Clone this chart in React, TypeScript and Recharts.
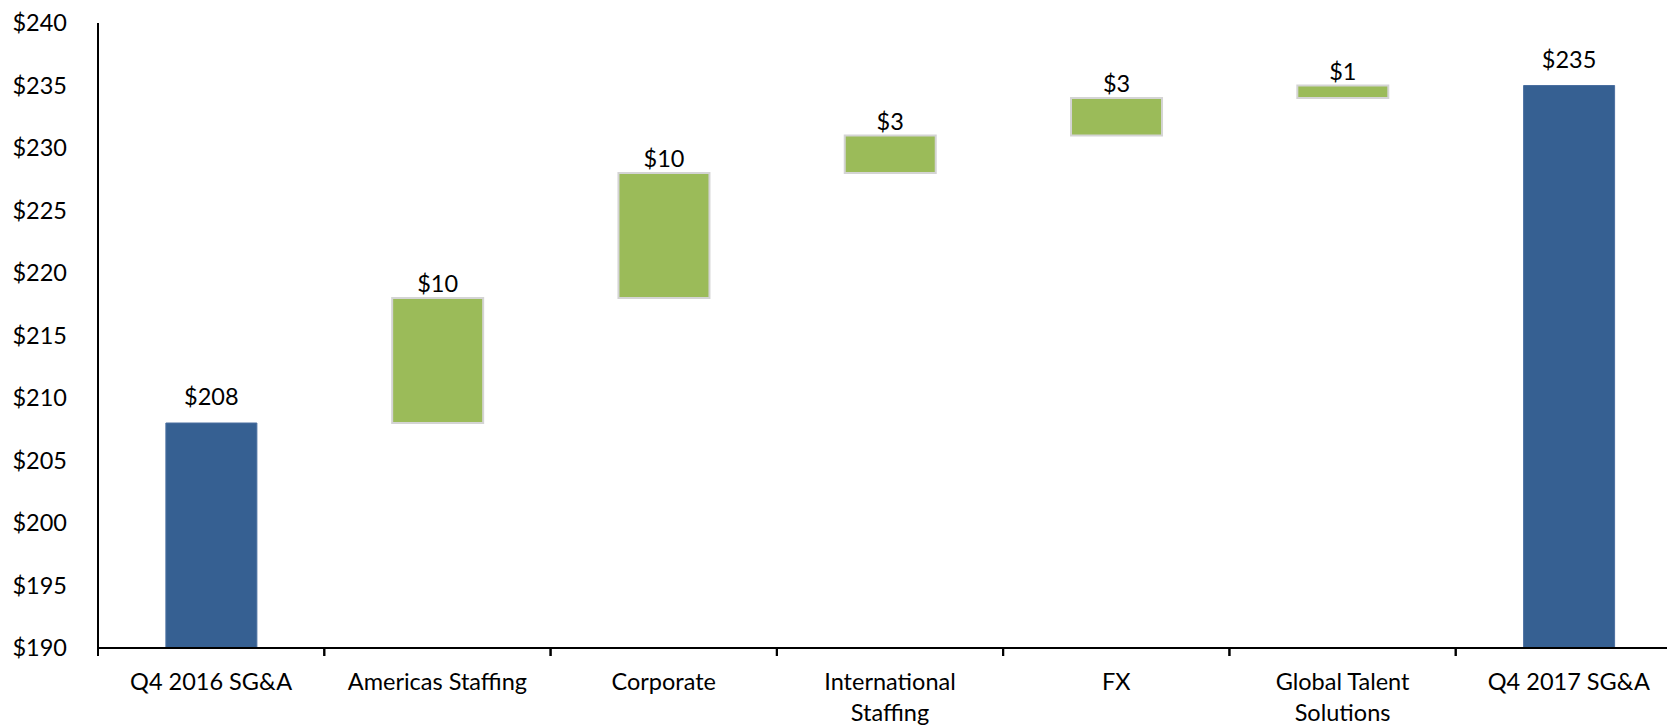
import { BarChart, Bar, XAxis, YAxis, Cell, LabelList } from 'recharts'

const categories = [
  'Q4 2016 SG&A',
  'Americas Staffing',
  'Corporate',
  'International Staffing',
  'FX',
  'Global Talent Solutions',
  'Q4 2017 SG&A',
]
const startTotal = 208
const deltas = [10, 10, 3, 3, 1]
const endTotal = 235
const yTicks = [190, 195, 200, 205, 210, 215, 220, 225, 230, 235, 240]
const AXIS_MIN = 190
const AXIS_MAX = 240

const FONT = 'Lato, sans-serif'
const FONT_SIZE = 23.5
const BLUE = '#366092'
const GREEN = '#9bbb59'

type Row = { name: string; range: [number, number]; label: string; total: boolean }

const rows: Row[] = (() => {
  const out: Row[] = [{ name: categories[0], range: [AXIS_MIN, startTotal], label: `$${startTotal}`, total: true }]
  let run = startTotal
  deltas.forEach((d, i) => {
    out.push({ name: categories[i + 1], range: [run, run + d], label: `$${d}`, total: false })
    run += d
  })
  out.push({ name: categories[categories.length - 1], range: [AXIS_MIN, endTotal], label: `$${endTotal}`, total: true })
  return out
})()

// word wrap by measured width, like the spreadsheet does
let ctx: CanvasRenderingContext2D | null = null
function wrap(text: string, maxWidth: number): string[] {
  if (!ctx) ctx = document.createElement('canvas').getContext('2d')
  if (!ctx) return [text]
  ctx.font = `${FONT_SIZE}px ${FONT}`
  const lines: string[] = []
  let cur = ''
  for (const w of text.split(' ')) {
    const next = cur ? `${cur} ${w}` : w
    if (cur && ctx.measureText(next).width > maxWidth) {
      lines.push(cur)
      cur = w
    } else {
      cur = next
    }
  }
  if (cur) lines.push(cur)
  return lines
}

function CategoryTick(props: any) {
  const { x, y, payload } = props
  const half = payload && payload.offset ? payload.offset : 113
  const lines = wrap(String(payload.value), 195)
  return (
    <g>
      <line x1={x - half} x2={x - half} y1={y} y2={y + 8} stroke="#000" strokeWidth={2} />
      <line x1={x + half} x2={x + half} y1={y} y2={y + 8} stroke="#000" strokeWidth={2} />
      <text x={x} y={y + 42} textAnchor="middle" fontFamily={FONT} fontSize={FONT_SIZE} fill="#000">
        {lines.map((ln, i) => (
          <tspan key={i} x={x} dy={i === 0 ? 0 : 31}>
            {ln}
          </tspan>
        ))}
      </text>
    </g>
  )
}

function BarLabel(props: any) {
  const { x, y, width, value, index } = props
  const lift = rows[index] && rows[index].total ? 27 : 15
  return (
    <text
      x={x + width / 2}
      y={y - lift}
      textAnchor="middle"
      dominantBaseline="central"
      fontFamily={FONT}
      fontSize={FONT_SIZE}
      fill="#000"
    >
      {value}
    </text>
  )
}

export default function App() {
  return (
    <div
      style={{
        position: 'absolute',
        left: 0,
        top: 0,
        width: 1667,
        height: 726,
        overflow: 'hidden',
        background: '#fff',
      }}
    >
      <BarChart
        width={1690}
        height={726}
        data={rows}
        margin={{ top: 23, right: 8, bottom: 0, left: 0 }}
        barCategoryGap="30%"
      >
        <XAxis
          dataKey="name"
          height={78}
          tickSize={0}
          tickMargin={0}
          tickLine={false}
          axisLine={{ stroke: '#000', strokeWidth: 2 }}
          tick={<CategoryTick />}
          interval={0}
        />
        <YAxis
          width={98}
          domain={[AXIS_MIN, AXIS_MAX]}
          ticks={yTicks}
          allowDataOverflow
          tickLine={false}
          tickSize={0}
          tickMargin={31}
          axisLine={{ stroke: '#000', strokeWidth: 2 }}
          tick={{ fontFamily: FONT, fontSize: FONT_SIZE, fill: '#000' }}
          tickFormatter={(v: number) => `$${v}`}
        />
        <Bar dataKey="range" isAnimationActive={false}>
          {rows.map((r, i) => (
            <Cell
              key={i}
              fill={r.total ? BLUE : GREEN}
              stroke={r.total ? '#4a6fa0' : '#d4d4d4'}
              strokeWidth={r.total ? 1 : 2}
            />
          ))}
          <LabelList dataKey="label" content={<BarLabel />} />
        </Bar>
      </BarChart>
    </div>
  )
}
